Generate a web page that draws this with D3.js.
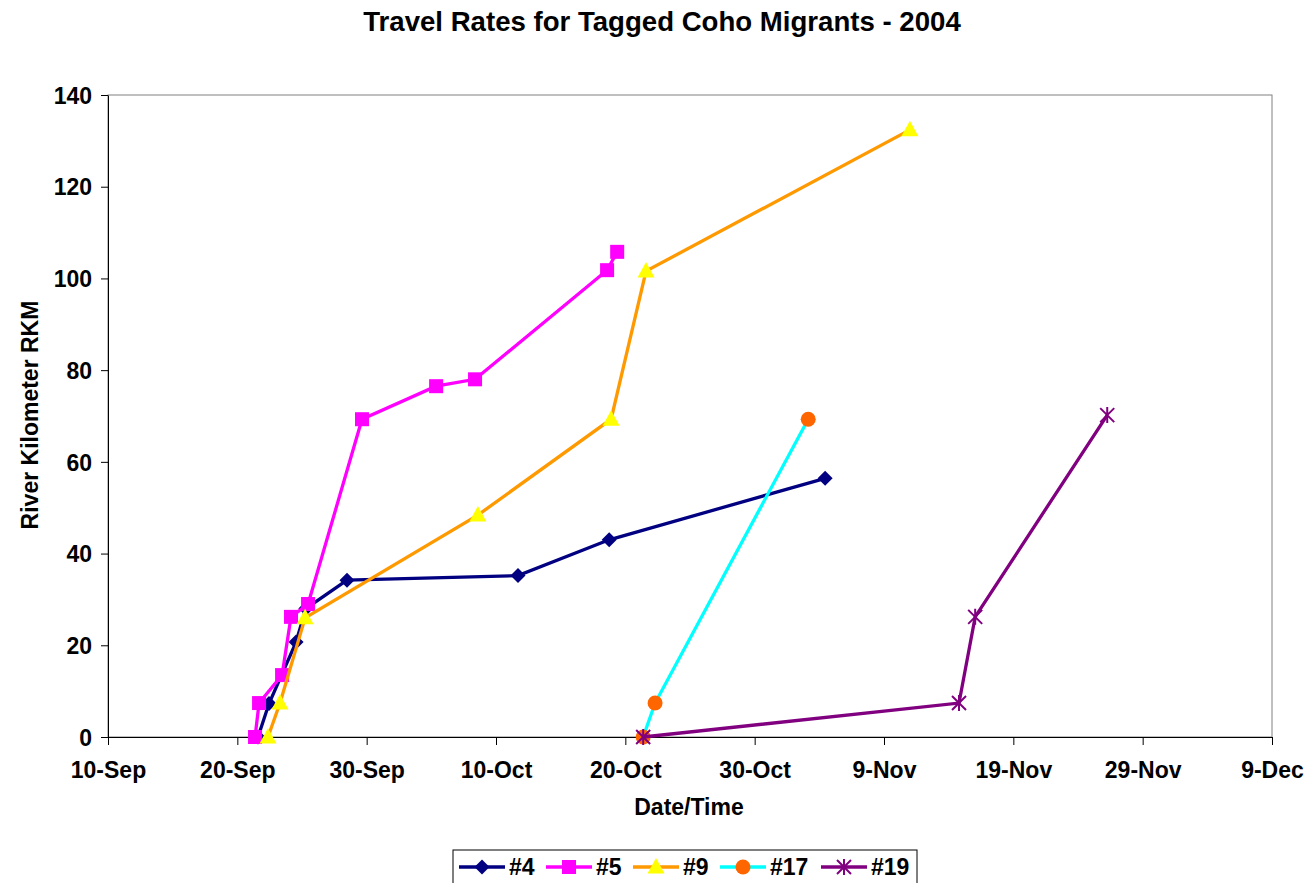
<!DOCTYPE html>
<html><head><meta charset="utf-8">
<script src="https://cdn.jsdelivr.net/npm/d3@7"></script>
<style>
body{margin:0;background:#fff;}
text{font-family:"Liberation Sans",Arial,sans-serif;font-weight:bold;}
</style></head>
<body><svg id="c" width="1308" height="883"></svg>
<script>
// day offsets from 10-Sep-2004, values in RKM
const s4Days = [11.6, 12.45, 14.54, 15.3, 18.48, 31.7, 38.75, 55.45];
const s4Vals = [0, 7.3, 20.7, 28, 34.2, 35.2, 43, 56.4];
const s5Days = [11.37, 11.68, 13.46, 14.15, 15.47, 19.64, 25.37, 28.38, 38.59, 39.37];
const s5Vals = [0, 7.4, 13.5, 26.2, 29, 69.3, 76.5, 78, 101.8, 105.8];
const s9Days = [12.37, 13.3, 15.24, 28.6, 38.9, 41.6, 62.0];
const s9Vals = [0, 7.4, 26, 48.4, 69.3, 101.6, 132.4];
const s17Days = [41.38, 42.3, 54.14];
const s17Vals = [0, 7.4, 69.3];
const s19Days = [41.38, 65.8, 67.05, 77.26];
const s19Vals = [0, 7.4, 26.2, 70.2];
const seriesNames = ["#4","#5","#9","#17","#19"];
const yTicks = [0,20,40,60,80,100,120,140];

const base = new Date(2004,8,10);
const toDate = d => new Date(base.getTime() + d*86400000);
const series = [
  {name:"#4", days:s4Days, vals:s4Vals, line:"#000080", fill:"#000080", sym:"diamond"},
  {name:"#5", days:s5Days, vals:s5Vals, line:"#FF00FF", fill:"#FF00FF", sym:"square"},
  {name:"#9", days:s9Days, vals:s9Vals, line:"#FF9900", fill:"#FFFF00", sym:"triangle"},
  {name:"#17", days:s17Days, vals:s17Vals, line:"#00FFFF", fill:"#FF6600", sym:"circle"},
  {name:"#19", days:s19Days, vals:s19Vals, line:"#800080", fill:"#800080", sym:"star"}
];

const svg = d3.select("#c");
const L=108, R=1272, T=95, B=737;
const x = d3.scaleTime().domain([base, toDate(90)]).range([L,R]);
const y = d3.scaleLinear().domain([0,140]).range([B,T]);

svg.append("text").attr("x",662).attr("y",31).attr("text-anchor","middle")
  .attr("font-size",27.6).text("Travel Rates for Tagged Coho Migrants - 2004");

// plot border
svg.append("rect").attr("x",L).attr("y",T).attr("width",R-L).attr("height",B-T)
  .attr("fill","none").attr("stroke","#808080").attr("stroke-width",1);

const xTickVals = d3.range(0,91,10).map(toDate);
const fmt = d3.timeFormat("%-d-%b");
const xa = svg.append("g").attr("transform",`translate(0,${B})`)
  .call(d3.axisBottom(x).tickValues(xTickVals).tickFormat(fmt).tickSize(8).tickSizeOuter(0));
xa.selectAll("text").attr("font-size",23).attr("fill","#000").attr("y",41).attr("dy",0);
xa.select(".domain").attr("stroke","#000");
const ya = svg.append("g").attr("transform",`translate(${L},0)`)
  .call(d3.axisLeft(y).tickValues(yTicks).tickSize(7).tickSizeOuter(0));
ya.selectAll("text").attr("font-size",23).attr("fill","#000").attr("x",-16).attr("dy","0.36em");
ya.select(".domain").attr("stroke","#000");

svg.append("text").attr("x",689).attr("y",815).attr("text-anchor","middle").attr("font-size",23).text("Date/Time");
svg.append("text").attr("transform","translate(38,415) rotate(-90)").attr("text-anchor","middle").attr("font-size",23).text("River Kilometer RKM");

function marker(g, s, cx, cy){
  if(s.sym==="diamond"){
    g.append("path").attr("d",`M${cx},${cy-7.5}L${cx+7.5},${cy}L${cx},${cy+7.5}L${cx-7.5},${cy}Z`).attr("fill",s.fill);
  } else if(s.sym==="square"){
    g.append("rect").attr("x",cx-7).attr("y",cy-7).attr("width",14).attr("height",14).attr("fill",s.fill);
  } else if(s.sym==="triangle"){
    g.append("path").attr("d",`M${cx},${cy-9}L${cx+8.5},${cy+6.5}L${cx-8.5},${cy+6.5}Z`).attr("fill",s.fill);
  } else if(s.sym==="circle"){
    g.append("circle").attr("cx",cx).attr("cy",cy).attr("r",7.5).attr("fill",s.fill);
  } else {
    const r=7;
    g.append("path").attr("d",`M${cx-r},${cy-r}L${cx+r},${cy+r}M${cx-r},${cy+r}L${cx+r},${cy-r}M${cx},${cy-r-1}L${cx},${cy+r+1}`)
      .attr("stroke",s.fill).attr("stroke-width",2);
  }
}

const line = d3.line().x(d=>x(d[0])).y(d=>y(d[1]));
series.forEach(s=>{
  const pts = s.days.map((d,i)=>[toDate(d), s.vals[i]]);
  const g = svg.append("g");
  g.append("path").datum(pts).attr("d",line).attr("fill","none").attr("stroke",s.line).attr("stroke-width",3.3);
  pts.forEach(p=>marker(g,s,x(p[0]),y(p[1])));
});

// legend
const lg = svg.append("g");
lg.append("rect").attr("x",453).attr("y",850).attr("width",464).attr("height",40).attr("fill","#fff").attr("stroke","#000").attr("stroke-width",1);
const lx = [459,546,633,720,821];
series.forEach((s,i)=>{
  const g = lg.append("g");
  g.append("line").attr("x1",lx[i]).attr("x2",lx[i]+46).attr("y1",867).attr("y2",867).attr("stroke",s.line).attr("stroke-width",3.3);
  marker(g,s,lx[i]+23,867);
  g.append("text").attr("x",lx[i]+50).attr("y",875).attr("font-size",23).text(seriesNames[i]);
});
</script></body></html>
